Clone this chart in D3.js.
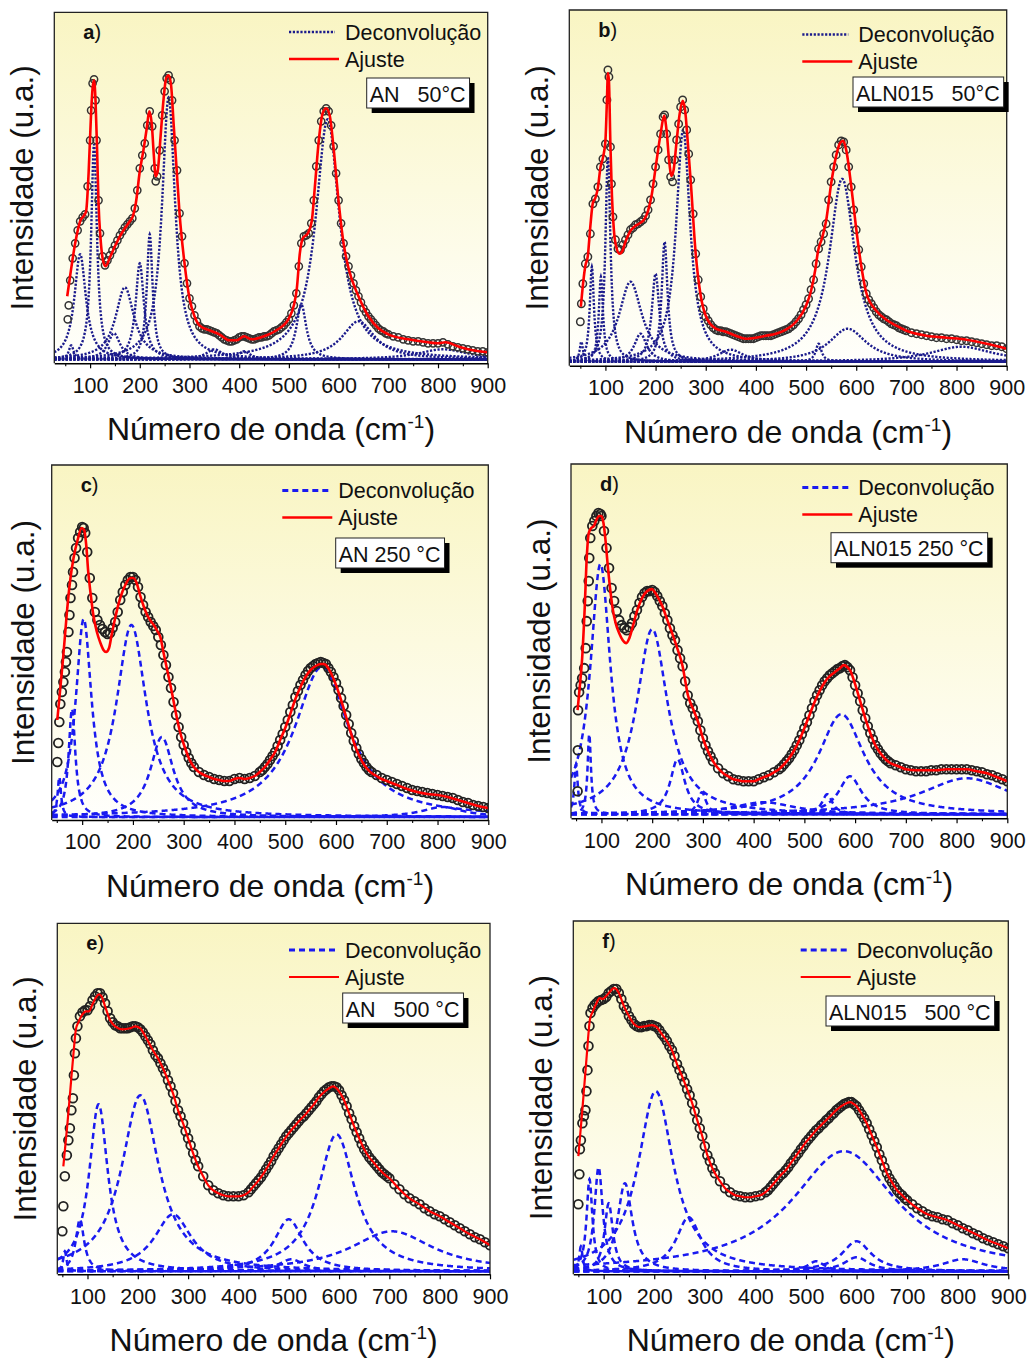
<!DOCTYPE html>
<html><head><meta charset="utf-8">
<script src="https://cdn.jsdelivr.net/npm/d3@7"></script>
<style>
body{margin:0;background:#fff}
svg{display:block}
text{font-family:Arial,"Liberation Sans",Helvetica,sans-serif}
</style></head><body>
<svg id="chart" width="1029" height="1358"></svg>
<script>
// ---------------- DATA ----------------
const majorTicks = [100,200,300,400,500,600,700,800,900];
const minorTicks = [50,150,250,350,450,550,650,750,850];
const panelLetters = ['a','b','c','d','e','f'];
const sampleLabels = ['AN   50°C','ALN015   50°C','AN 250 °C','ALN015 250 °C','AN   500 °C','ALN015   500 °C'];
const legendLabels = ['Deconvolução','Ajuste'];
const xTitle = 'Número de onda (cm';
const xTitleSup = '-1';
const yTitle = 'Intensidade (u.a.)';
const xMinValues = [28,28,40,40,40,40];
const xMaxValue = 900;
const yMaxValues = [351,356,355,354,351,353];
const componentBase = [4,4,3,4,3,3];

// measured spectra [wavenumber, intensity]
const dataA = [[55,44],[57,58],[60,83],[65,105],[70,120],[75,133],[80,142],[85,146],[90,149],[95,177],[100,223],[102,253],[105,280],[108,284],[111,263],[113,223],[117,163],[120,130],[125,107],[130,98],[135,103],[140,108],[145,113],[150,118],[155,123],[160,128],[165,132],[170,136],[175,139],[180,142],[185,145],[190,155],[195,173],[200,195],[205,208],[210,220],[215,238],[220,252],[225,237],[230,195],[232,182],[235,187],[240,213],[245,248],[250,272],[254,285],[258,288],[262,283],[265,263],[270,223],[275,193],[280,150],[285,127],[290,100],[295,80],[300,65],[305,57],[310,48],[315,42],[320,37],[325,35],[330,34],[335,34],[340,33],[345,32],[350,31],[355,30],[360,28],[365,26],[370,24],[375,23],[380,22],[385,22],[390,23],[395,24],[400,26],[405,27],[410,27],[415,26],[420,25],[425,24],[430,24],[435,25],[440,26],[445,26],[450,27],[455,27],[460,28],[465,30],[470,32],[475,33],[480,34],[485,36],[490,38],[495,41],[500,44],[505,50],[510,58],[515,70],[520,97],[525,120],[530,127],[535,128],[540,130],[545,140],[550,163],[555,197],[560,223],[565,242],[570,252],[575,255],[580,252],[585,238],[590,217],[595,190],[600,163],[605,140],[610,120],[615,107],[620,97],[625,88],[630,80],[635,73],[640,67],[645,61],[650,55],[655,51],[660,47],[665,44],[670,41],[675,38],[680,35],[685,33],[690,32],[695,30],[700,29],[710,27],[720,26],[730,24],[740,23],[750,22],[760,22],[770,21],[780,20],[790,20],[800,20],[810,21],[820,19],[830,17],[840,16],[850,15],[860,14],[870,13],[880,12],[890,12],[900,11]];
const fitA = [[54,67],[60,88],[70,120],[80,142],[88,148],[92,152],[97,190],[102,250],[105,275],[108,283],[111,262],[114,215],[117,160],[121,125],[126,103],[131,97],[140,106],[150,117],[160,127],[170,135],[180,142],[186,147],[192,160],[200,192],[208,215],[214,235],[219,252],[224,240],[228,210],[232,187],[236,192],[242,228],[248,265],[253,285],[258,288],[263,278],[268,240],[274,195],[280,150],[290,100],[300,65],[310,47],[320,38],[340,33],[360,29],[380,23],[395,23],[410,27],[425,24],[450,27],[475,33],[500,45],[510,58],[516,75],[522,110],[528,125],[538,130],[546,142],[552,175],[560,222],[568,250],[575,255],[582,248],[590,215],[600,162],[610,120],[620,95],[640,67],[660,47],[680,35],[700,29],[740,24],[780,21],[800,20],[815,21],[840,17],[870,13],[900,11]];
const peaksA = [[62,14,12],[80,105,28],[108,215,14],[148,26,30],[170,72,45],[200,96,20],[220,125,14],[258,262,32],[350,10,40],[410,8,30],[525,55,24],[578,240,58],[640,38,80],[810,10,120]];

const dataB = [[50,44],[52,62],[55,82],[60,102],[65,109],[70,132],[75,162],[80,167],[85,179],[90,199],[95,207],[100,222],[103,266],[105,296],[107,289],[110,219],[112,182],[115,149],[120,126],[125,117],[130,116],[135,121],[140,126],[145,131],[150,136],[155,138],[160,141],[165,142],[170,144],[175,146],[180,150],[185,156],[190,166],[195,182],[200,199],[205,216],[210,232],[215,249],[218,251],[222,232],[226,206],[230,189],[234,184],[238,206],[242,226],[246,242],[250,259],[254,266],[258,256],[262,236],[266,212],[270,186],[275,152],[280,112],[285,86],[290,69],[295,57],[300,49],[305,45],[310,41],[315,38],[320,36],[325,35],[330,35],[335,34],[340,34],[345,33],[350,32],[355,31],[360,30],[365,29],[370,28],[375,27],[380,27],[385,27],[390,27],[395,27],[400,28],[405,29],[410,30],[415,30],[420,30],[425,30],[430,30],[435,31],[440,32],[445,33],[450,34],[455,35],[460,36],[465,37],[470,39],[475,41],[480,44],[485,47],[490,51],[495,56],[500,61],[505,67],[510,76],[515,86],[520,102],[525,117],[530,124],[535,132],[540,142],[545,166],[550,184],[555,199],[560,211],[565,221],[570,225],[575,224],[580,216],[585,199],[590,179],[595,156],[600,136],[605,116],[610,99],[615,82],[620,72],[625,66],[630,62],[635,58],[640,54],[645,51],[650,49],[655,47],[660,46],[665,44],[670,42],[675,41],[680,40],[685,38],[690,37],[695,36],[700,35],[710,33],[720,32],[730,31],[740,30],[750,29],[760,28],[770,28],[780,27],[790,27],[800,26],[810,25],[820,25],[830,24],[840,23],[850,22],[860,21],[870,20],[880,20],[890,19],[900,17]];
const fitB = [[51,59],[55,80],[60,100],[65,110],[70,140],[75,163],[80,168],[85,178],[90,198],[95,208],[100,225],[103,265],[105,293],[107,285],[110,220],[113,170],[117,135],[122,118],[128,112],[133,114],[140,124],[150,135],[160,140],[170,143],[178,147],[185,155],[192,170],[200,198],[210,232],[217,250],[222,235],[227,205],[232,190],[236,196],[242,225],[248,252],[254,265],[259,255],[264,225],[270,185],[280,112],[290,70],[300,50],[320,37],[340,34],[360,30],[380,27],[400,28],[420,30],[440,32],[460,36],[480,44],[500,60],[510,75],[518,95],[524,115],[532,128],[540,145],[550,182],[560,210],[568,223],[574,225],[580,216],[590,180],[600,137],[610,100],[620,73],[640,55],[660,46],[680,40],[700,35],[740,30],[780,28],[820,26],[860,22],[900,17]];
const peaksB = [[52,20,8],[73,95,10],[91,85,10],[105,205,12],[150,80,55],[170,28,30],[200,88,18],[218,120,14],[255,232,34],[350,12,60],[525,18,14],[572,183,62],[583,33,90],[810,15,150]];

const dataC = [[51,58],[53,77],[55,98],[57,116],[60,128],[63,138],[66,148],[68,158],[70,168],[73,188],[75,205],[77,222],[80,235],[82,248],[85,262],[88,272],[92,282],[96,288],[100,293],[103,292],[106,287],[110,268],[115,242],[120,222],[125,208],[130,200],[135,195],[140,191],[145,188],[150,186],[155,187],[160,192],[165,198],[170,208],[175,220],[180,228],[185,235],[190,240],[195,243],[200,243],[205,240],[210,233],[215,223],[220,215],[225,208],[230,203],[235,198],[240,194],[245,190],[250,183],[255,175],[260,165],[265,155],[270,143],[275,132],[280,118],[285,105],[290,93],[295,83],[300,75],[305,68],[310,62],[315,57],[320,53],[330,48],[340,45],[350,43],[360,41],[370,40],[380,39],[390,39],[400,41],[410,42],[420,41],[430,42],[440,44],[450,48],[455,50],[460,53],[465,56],[470,60],[475,64],[480,68],[485,74],[490,80],[495,86],[500,93],[505,100],[510,108],[515,115],[520,123],[525,129],[530,135],[535,140],[540,145],[545,149],[550,152],[555,154],[560,156],[565,157],[570,158],[575,157],[580,156],[585,152],[590,148],[595,143],[600,137],[605,130],[610,122],[615,114],[620,105],[625,96],[630,87],[635,79],[640,72],[645,66],[650,61],[655,57],[660,53],[665,50],[670,48],[680,45],[690,42],[700,40],[710,38],[720,36],[730,34],[740,32],[750,30],[760,29],[770,28],[780,27],[790,26],[800,25],[810,24],[820,23],[830,22],[840,20],[850,18],[860,17],[870,15],[880,14],[890,13],[900,12]];
const fitC = [[51,100],[57,132],[63,165],[70,208],[76,238],[83,262],[91,280],[99,292],[104,290],[108,275],[112,248],[117,225],[122,205],[129,188],[136,177],[142,170],[147,168],[153,172],[158,185],[165,202],[175,222],[185,235],[195,242],[201,242],[208,236],[214,225],[221,214],[228,205],[235,199],[241,195],[248,189],[254,183],[260,168],[265,156],[270,144],[275,132],[280,119],[285,106],[290,94],[295,84],[300,76],[310,62],[320,53],[330,48],[340,45],[350,43],[360,41],[370,40],[380,39],[390,39],[400,41],[410,42],[420,41],[430,42],[440,44],[450,48],[460,53],[470,60],[480,68],[490,80],[500,92],[510,106],[520,121],[530,133],[540,143],[550,150],[560,154],[570,156],[575,156],[580,155],[590,147],[600,135],[610,120],[620,103],[630,86],[640,71],[650,60],[660,52],[670,47],[680,44],[690,41],[700,39],[720,35],[740,31],[760,28],[780,26],[800,25],[820,23],[840,20],[860,17],[880,14],[900,12]];
const peaksC = [[55,40,8],[80,108,16],[103,198,38],[197,192,72],[257,80,55],[572,150,130],[810,10,100]];

const dataD = [[53,27],[53.5,68],[54,108],[56,126],[59,133],[62,140],[66,150],[69,170],[71,197],[73,217],[75,237],[76,260],[78,280],[82,292],[86,297],[90,302],[94,305],[98,304],[100,302],[105,287],[110,270],[115,250],[120,230],[125,217],[130,207],[135,198],[140,193],[145,190],[150,188],[155,191],[160,195],[165,202],[170,208],[175,215],[180,221],[185,225],[190,227],[195,227],[200,228],[205,226],[210,222],[215,217],[220,212],[225,205],[230,198],[235,190],[240,183],[245,178],[250,168],[255,160],[260,152],[265,137],[270,123],[275,115],[280,110],[285,103],[290,97],[295,88],[300,80],[305,73],[310,67],[315,62],[320,57],[330,50],[340,45],[350,42],[360,39],[370,38],[380,37],[390,37],[400,37],[410,39],[420,41],[430,43],[440,46],[450,49],[455,51],[460,54],[465,57],[470,60],[475,64],[480,68],[485,73],[490,78],[495,84],[500,90],[505,96],[510,103],[515,110],[520,117],[525,123],[530,128],[535,133],[540,137],[545,140],[550,143],[555,145],[560,147],[565,149],[570,150],[575,152],[580,153],[585,151],[590,148],[595,141],[600,133],[605,125],[610,117],[615,108],[620,100],[625,92],[630,85],[635,79],[640,73],[645,69],[650,65],[655,62],[660,59],[665,57],[670,55],[680,53],[690,51],[700,49],[710,48],[720,47],[730,47],[740,47],[750,48],[760,48],[770,49],[780,49],[790,49],[800,49],[810,49],[820,49],[830,48],[840,47],[850,46],[860,44],[870,43],[880,41],[890,39],[900,37]];
const fitD = [[53,108],[57,130],[62,160],[67,210],[71,260],[75,285],[80,290],[85,292],[90,298],[95,302],[100,302],[104,295],[108,278],[112,255],[117,230],[122,210],[128,195],[135,185],[142,178],[149,175],[155,180],[162,192],[170,207],[180,220],[190,227],[200,229],[205,226],[210,222],[220,212],[230,198],[240,184],[250,169],[260,152],[265,138],[270,124],[275,116],[280,110],[290,97],[300,80],[310,67],[320,57],[330,50],[340,45],[350,42],[360,39],[370,38],[380,37],[390,37],[400,37],[410,39],[420,41],[430,43],[440,46],[450,49],[460,54],[470,60],[480,68],[490,78],[500,90],[510,103],[520,116],[530,127],[540,136],[550,142],[560,146],[570,150],[578,153],[585,151],[590,148],[600,134],[610,117],[620,100],[630,85],[640,73],[650,65],[660,59],[670,55],[680,53],[690,51],[700,49],[720,48],[740,48],[760,48],[780,49],[800,49],[820,49],[840,47],[860,45],[880,41],[900,37]];
const peaksD = [[50,50,8],[76,80,8],[98,250,48],[200,185,75],[250,55,35],[298,22,20],[420,12,150],[545,20,25],[573,100,110],[590,38,55],[820,36,220]];

const dataE = [[50,43],[52,68],[55,98],[59,119],[62,134],[65,146],[68,164],[71,176],[73,199],[75,221],[77,236],[80,248],[85,258],[90,262],[95,264],[100,264],[105,268],[110,274],[115,278],[120,281],[125,281],[130,277],[135,271],[140,263],[145,256],[150,252],[155,249],[160,248],[165,246],[170,246],[175,246],[180,246],[185,247],[190,248],[195,248],[200,247],[205,245],[210,242],[215,238],[220,234],[225,230],[230,224],[235,219],[240,216],[245,211],[250,206],[255,201],[260,194],[265,188],[270,181],[275,173],[280,164],[285,158],[290,151],[295,143],[300,136],[305,129],[310,121],[315,114],[320,108],[330,98],[340,89],[350,84],[360,81],[370,79],[380,78],[390,78],[400,78],[410,79],[420,82],[425,85],[430,88],[435,91],[440,94],[445,97],[450,101],[455,105],[460,109],[465,113],[470,118],[475,122],[480,126],[485,130],[490,134],[495,138],[500,141],[505,144],[510,147],[515,150],[520,153],[525,156],[530,158],[535,161],[540,164],[545,167],[550,170],[555,173],[560,177],[565,180],[570,183],[575,185],[580,187],[585,188],[590,188],[595,187],[600,184],[605,179],[610,174],[615,168],[620,161],[625,155],[630,148],[635,142],[640,136],[645,130],[650,125],[655,121],[660,117],[665,114],[670,111],[675,108],[680,105],[685,102],[690,100],[695,98],[700,96],[710,90],[720,85],[730,80],[740,76],[750,73],[760,70],[770,66],[780,63],[790,60],[800,58],[810,55],[820,52],[830,49],[840,46],[850,43],[860,40],[870,37],[880,35],[890,32],[900,29]];
const fitE = [[52,108],[60,150],[66,185],[72,220],[77,245],[82,252],[90,260],[97,263],[103,263],[110,270],[117,277],[123,280],[128,278],[135,268],[145,254],[155,248],[170,245],[185,246],[195,248],[205,246],[215,238],[230,224],[240,216],[250,206],[260,194],[270,181],[280,164],[290,151],[300,136],[310,121],[320,108],[330,98],[340,89],[350,84],[360,81],[370,79],[380,78],[390,78],[400,78],[410,79],[420,82],[430,88],[440,94],[450,101],[460,109],[470,118],[480,126],[490,134],[500,141],[510,147],[520,153],[530,158],[540,164],[550,170],[560,177],[570,182],[580,186],[588,188],[595,186],[600,183],[610,174],[620,161],[630,148],[640,136],[650,125],[660,117],[670,111],[680,105],[690,100],[700,96],[720,85],[740,76],[760,70],[780,63],[800,58],[820,52],[840,46],[860,40],[880,35],[900,29]];
const peaksE = [[55,20,8],[85,52,20],[122,167,45],[205,176,90],[270,57,90],[500,52,70],[505,12,60],[595,137,90],[705,40,200]];

const dataF = [[50,70],[52,100],[53,125],[55,134],[58,151],[61,158],[64,164],[66,183],[68,204],[70,228],[72,248],[74,261],[78,266],[82,269],[86,271],[90,273],[95,274],[100,275],[105,277],[110,281],[115,283],[120,285],[125,285],[130,281],[135,275],[140,268],[145,264],[150,258],[155,254],[160,250],[165,248],[170,247],[175,247],[180,248],[185,248],[190,249],[195,249],[200,248],[205,247],[210,244],[215,240],[220,237],[225,233],[230,228],[235,224],[240,218],[245,210],[250,204],[255,198],[260,192],[265,185],[270,179],[275,171],[280,163],[285,154],[290,146],[295,138],[300,128],[305,119],[310,113],[315,106],[320,101],[330,93],[340,86],[350,82],[360,79],[370,78],[380,77],[390,77],[400,78],[410,79],[420,82],[425,84],[430,87],[435,90],[440,93],[445,96],[450,99],[455,101],[460,104],[465,107],[470,111],[475,114],[480,118],[485,121],[490,125],[495,128],[500,132],[505,135],[510,138],[515,141],[520,144],[525,146],[530,149],[535,151],[540,154],[545,156],[550,159],[555,161],[560,164],[565,166],[570,168],[575,170],[580,171],[585,172],[590,172],[595,170],[600,168],[605,164],[610,160],[615,156],[620,151],[625,145],[630,139],[635,133],[640,127],[645,120],[650,114],[655,107],[660,101],[665,96],[670,92],[675,88],[680,84],[685,81],[690,79],[695,76],[700,74],[710,70],[720,66],[730,63],[740,60],[750,58],[760,57],[770,55],[780,54],[790,51],[800,49],[810,46],[820,44],[830,41],[840,39],[850,36],[860,34],[870,32],[880,30],[890,28],[900,26]];
const fitF = [[50,118],[58,165],[66,215],[73,255],[78,262],[85,270],[92,276],[98,275],[105,278],[112,282],[120,286],[125,285],[130,281],[140,268],[150,258],[160,250],[170,247],[185,248],[195,249],[205,247],[215,240],[225,233],[235,224],[245,210],[255,198],[265,185],[275,171],[285,154],[295,138],[305,119],[315,106],[330,93],[340,86],[350,82],[360,79],[370,78],[380,77],[390,77],[400,78],[410,79],[420,82],[430,87],[440,93],[450,99],[460,104],[470,111],[480,118],[490,125],[500,132],[510,138],[520,144],[530,149],[540,154],[550,159],[560,164],[570,168],[580,171],[588,172],[595,170],[600,168],[610,160],[620,151],[630,139],[640,127],[650,114],[660,101],[670,92],[680,84],[690,79],[700,74],[720,66],[740,60],[760,57],[780,54],[800,49],[820,44],[840,39],[860,34],[880,30],[900,26]];
const peaksF = [[55,25,8],[72,92,14],[90,104,20],[110,68,20],[142,88,35],[203,180,85],[268,54,60],[520,10,40],[575,120,250],[600,30,70],[600,14,60],[810,12,100]];

// ---------------- LAYOUT / STYLE ----------------
const allData = [dataA,dataB,dataC,dataD,dataE,dataF];
const allFits = [fitA,fitB,fitC,fitD,fitE,fitF];
const allPeaks = [peaksA,peaksB,peaksC,peaksD,peaksE,peaksF];
const layout = [
  {l:54.3,t:12.3,r:487.7,b:363.3, boxX:366.7,boxY:78, legX:345, legY:39.5, yl:21},
  {l:569.3,t:10,r:1006.7,b:365.7, boxX:853,boxY:77, legX:858.3, legY:42, yl:21},
  {l:51.7,t:465,r:488.3,b:820, boxX:335.7,boxY:538, legX:338.3, legY:498, yl:18},
  {l:571,t:464,r:1007.3,b:818.3, boxX:831,boxY:532.7, legX:858.3, legY:495, yl:21},
  {l:57.3,t:923.3,r:490,b:1274.3, boxX:342.7,boxY:993, legX:345, legY:957.5, yl:21},
  {l:573.3,t:921,r:1008.3,b:1274.3, boxX:826,boxY:996, legX:856.7, legY:957.5, yl:21}
];
const styles = [
  {comp:'#1b1b8c', compW:2.4, dash:'2.2,1.6', circR:3.6, circW:1.5, circC:'#333', fitW:2.6},
  {comp:'#1b1b8c', compW:2.4, dash:'2.2,1.6', circR:3.7, circW:1.5, circC:'#333', fitW:2.6},
  {comp:'#1a1af0', compW:2.5, dash:'6,4', circR:4.4, circW:1.8, circC:'#222', fitW:2.6},
  {comp:'#1a1af0', compW:2.5, dash:'6,4', circR:4.4, circW:1.8, circC:'#222', fitW:2.6},
  {comp:'#1a1af0', compW:2.5, dash:'6,4', circR:4.4, circW:1.8, circC:'#222', fitW:2.2},
  {comp:'#1a1af0', compW:2.5, dash:'6,4', circR:4.4, circW:1.8, circC:'#222', fitW:2.2}
];

const svg = d3.select('#chart');
const defs = svg.append('defs');
const grad = defs.append('linearGradient').attr('id','bg').attr('x1',0).attr('y1',0).attr('x2',0).attr('y2',1);
grad.append('stop').attr('offset','0%').attr('stop-color','#f9f5c3');
grad.append('stop').attr('offset','100%').attr('stop-color','#fffffc');

function lorentz(p, base, x){ const hw = p[2]/2; const d = (x-p[0])/hw; return base + p[1]/(1+d*d); }

layout.forEach((L,i)=>{
  const S = styles[i];
  const x = d3.scaleLinear().domain([xMinValues[i], xMaxValue]).range([L.l, L.r]);
  const y = d3.scaleLinear().domain([0, yMaxValues[i]]).range([L.b, L.t]);
  const g = svg.append('g');
  const clipId = 'clip'+i;
  defs.append('clipPath').attr('id',clipId).append('rect')
    .attr('x',L.l).attr('y',L.t).attr('width',L.r-L.l).attr('height',L.b-L.t);

  g.append('rect').attr('x',L.l).attr('y',L.t).attr('width',L.r-L.l).attr('height',L.b-L.t).attr('fill','url(#bg)');

  const plot = g.append('g').attr('clip-path',`url(#${clipId})`);
  const xs = d3.range(xMinValues[i], xMaxValue+0.25, 0.5);
  const line = d3.line().x(d=>x(d[0])).y(d=>y(d[1]));
  allPeaks[i].forEach(p=>{
    const pts = xs.map(v=>[v, lorentz(p, componentBase[i], v)]);
    plot.append('path').attr('d', line(pts)).attr('fill','none')
      .attr('stroke',S.comp).attr('stroke-width',S.compW).attr('stroke-dasharray',S.dash);
  });
  plot.append('g').selectAll('circle').data(allData[i]).join('circle')
    .attr('cx',d=>x(d[0])).attr('cy',d=>y(d[1])).attr('r',S.circR)
    .attr('fill','none').attr('stroke',S.circC).attr('stroke-width',S.circW);
  plot.append('path').attr('d', d3.line().x(d=>x(d[0])).y(d=>y(d[1])).curve(d3.curveMonotoneX)(allFits[i]))
    .attr('fill','none').attr('stroke','#ff0000').attr('stroke-width',S.fitW).attr('stroke-linejoin','round');

  g.append('path').attr('d',`M${L.l},${L.b}V${L.t}H${L.r}V${L.b}`).attr('fill','none').attr('stroke','#222').attr('stroke-width',1.3);

  const ax = g.append('g').attr('transform',`translate(0,${L.b})`)
    .call(d3.axisBottom(x).tickValues(majorTicks).tickSize(5).tickSizeOuter(0).tickFormat(d3.format('d')));
  ax.select('.domain').attr('stroke','#000').attr('stroke-width',1.6);
  ax.selectAll('.tick line').attr('stroke','#000').attr('stroke-width',1.2);
  ax.selectAll('.tick text').attr('y',14).attr('font-size',21.5).attr('fill','#111')
    .attr('font-family','Arial, "Liberation Sans", sans-serif');
  const axm = g.append('g').attr('transform',`translate(0,${L.b})`)
    .call(d3.axisBottom(x).tickValues(minorTicks).tickSize(3).tickSizeOuter(0).tickFormat(''));
  axm.select('.domain').remove();
  axm.selectAll('.tick line').attr('stroke','#000').attr('stroke-width',1.1);

  const xt = g.append('text').attr('x',(L.l+L.r)/2).attr('y',L.b+77).attr('text-anchor','middle')
    .attr('font-size',32).attr('fill','#111');
  xt.append('tspan').text(xTitle);
  xt.append('tspan').attr('dy',-12).attr('font-size',19).text(xTitleSup);
  xt.append('tspan').attr('dy',12).text(')');
  g.append('text').attr('transform',`translate(${L.l-L.yl},${(L.t+L.b)/2}) rotate(-90)`)
    .attr('text-anchor','middle').attr('font-size',31.5).attr('fill','#111').text(yTitle);

  const pl = g.append('text').attr('x',L.l+29).attr('y',L.t+27).attr('font-size',20).attr('fill','#111');
  pl.append('tspan').attr('font-weight','bold').text(panelLetters[i]);
  pl.append('tspan').text(')');

  g.append('line').attr('x1',L.legX-56).attr('x2',L.legX-10).attr('y1',L.legY-7.5).attr('y2',L.legY-7.5)
    .attr('stroke',S.comp).attr('stroke-width',S.compW+0.3).attr('stroke-dasharray',S.dash);
  g.append('text').attr('x',L.legX).attr('y',L.legY).attr('font-size',21.5).attr('fill','#111').text(legendLabels[0]);
  g.append('line').attr('x1',L.legX-56).attr('x2',L.legX-6).attr('y1',L.legY+27-7.5).attr('y2',L.legY+27-7.5)
    .attr('stroke','#ff0000').attr('stroke-width',i>=4?2:2.6);
  g.append('text').attr('x',L.legX).attr('y',L.legY+27).attr('font-size',21.5).attr('fill','#111').text(legendLabels[1]);

  const bg = g.append('g');
  const shadow = bg.append('rect').attr('fill','#000');
  const box = bg.append('rect').attr('fill','#fff').attr('stroke','#222').attr('stroke-width',1);
  const bt = bg.append('text').attr('x',L.boxX+3).attr('y',L.boxY+23.5).attr('font-size',21.5)
    .attr('fill','#111').style('white-space','pre').attr('xml:space','preserve').text(sampleLabels[i]);
  const w = bt.node().getComputedTextLength()+7;
  shadow.attr('x',L.boxX+5).attr('y',L.boxY+5).attr('width',w).attr('height',30);
  box.attr('x',L.boxX).attr('y',L.boxY).attr('width',w).attr('height',30);
});
</script>
</body></html>
